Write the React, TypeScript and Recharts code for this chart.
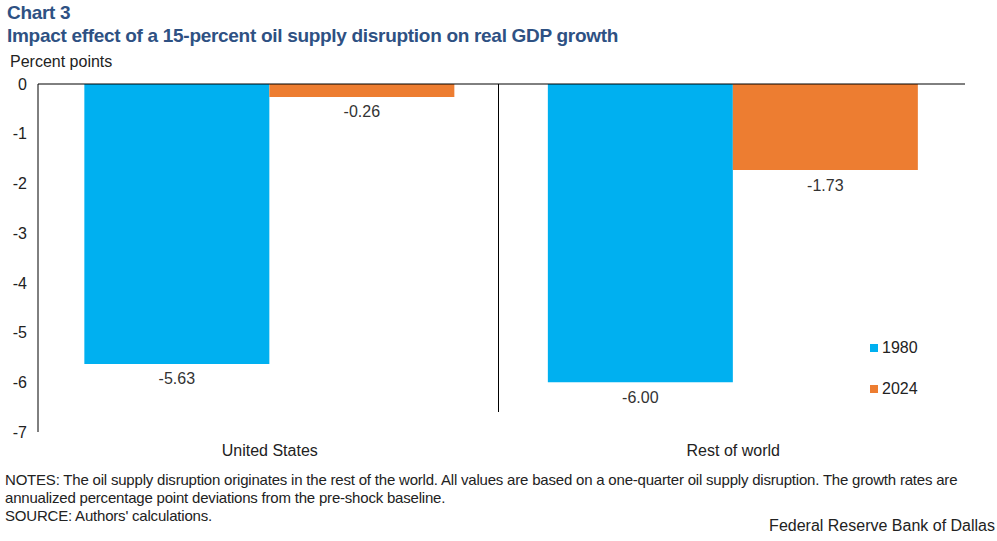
import { BarChart, Bar, XAxis, YAxis, ReferenceLine, LabelList } from 'recharts';

const regions = ['United States', 'Rest of world'];
const values1980 = [-5.63, -6.0];
const values2024 = [-0.26, -1.73];
const yTicks = [0, -1, -2, -3, -4, -5, -6, -7];

const BLUE = '#00B0F0';
const ORANGE = '#ED7D31';
const TITLE = '#2E5183';
const FONT = '"Liberation Sans", Arial, sans-serif';

const data = regions.map((region, i) => ({
  region,
  y1980: values1980[i],
  y2024: values2024[i],
}));

const BarValue = (props: any) => {
  const { x, y, width, height, value } = props;
  const bottom = Math.max(y, y + height);
  return (
    <text
      x={x + width / 2}
      y={bottom + 15}
      textAnchor="middle"
      dominantBaseline="central"
      fontSize={16}
      fill="#333"
      fontFamily={FONT}
    >
      {Number(value).toFixed(2)}
    </text>
  );
};

export default function App() {
  return (
    <div
      style={{
        position: 'absolute',
        left: 0,
        top: 0,
        width: 997,
        height: 541,
        background: '#fff',
        fontFamily: FONT,
        overflow: 'hidden',
      }}
    >
      <div style={{ position: 'absolute', left: 7, top: 2, fontSize: 19, fontWeight: 700, color: TITLE, letterSpacing: -0.3 }}>
        Chart 3
      </div>
      <div style={{ position: 'absolute', left: 7, top: 25, fontSize: 19, fontWeight: 700, color: TITLE, letterSpacing: -0.3 }}>
        Impact effect of a 15-percent oil supply disruption on real GDP growth
      </div>
      <div style={{ position: 'absolute', left: 10, top: 53, fontSize: 16, color: '#222' }}>
        Percent points
      </div>

      <BarChart
        width={997}
        height={541}
        data={data}
        barCategoryGap="10%"
        barGap={0}
        margin={{ top: 84, right: 32, left: 0, bottom: 79 }}
        style={{ position: 'absolute', left: 0, top: 0 }}
      >
        <XAxis
          dataKey="region"
          axisLine={false}
          tickLine={false}
          height={30}
          tickMargin={7}
          tick={{ fontSize: 16, fill: '#222', fontFamily: FONT }}
        />
        <YAxis
          width={38}
          domain={[-7, 0]}
          ticks={yTicks}
          interval={0}
          tickLine={false}
          tickMargin={5}
          axisLine={{ stroke: '#000', strokeWidth: 1 }}
          tick={{ fontSize: 16, fill: '#222', fontFamily: FONT }}
        />
        <Bar dataKey="y1980" fill={BLUE} isAnimationActive={false}>
          <LabelList dataKey="y1980" content={BarValue} />
        </Bar>
        <Bar dataKey="y2024" fill={ORANGE} isAnimationActive={false}>
          <LabelList dataKey="y2024" content={BarValue} />
        </Bar>
        <ReferenceLine y={0} stroke="#000" strokeWidth={1} />
      </BarChart>

      {/* divider between the two region groups */}
      <div style={{ position: 'absolute', left: 498, top: 84, width: 1, height: 328, background: '#000' }} />

      <div style={{ position: 'absolute', left: 870, top: 339, fontSize: 16, color: '#222' }}>
        <div style={{ display: 'flex', alignItems: 'center', height: 18 }}>
          <span style={{ width: 8, height: 8, background: BLUE, marginRight: 4 }} />
          1980
        </div>
        <div style={{ display: 'flex', alignItems: 'center', height: 18, marginTop: 23 }}>
          <span style={{ width: 8, height: 8, background: ORANGE, marginRight: 4 }} />
          2024
        </div>
      </div>

      <div style={{ position: 'absolute', left: 5, top: 471, fontSize: 15, color: '#222', lineHeight: '18px', letterSpacing: -0.2, width: 990 }}>
        NOTES: The oil supply disruption originates in the rest of the world. All values are based on a one-quarter oil supply disruption. The growth rates are
        <br />
        annualized percentage point deviations from the pre-shock baseline.
        <br />
        SOURCE: Authors' calculations.
      </div>
      <div style={{ position: 'absolute', right: 2, top: 517, fontSize: 16, color: '#222' }}>
        Federal Reserve Bank of Dallas
      </div>
    </div>
  );
}
